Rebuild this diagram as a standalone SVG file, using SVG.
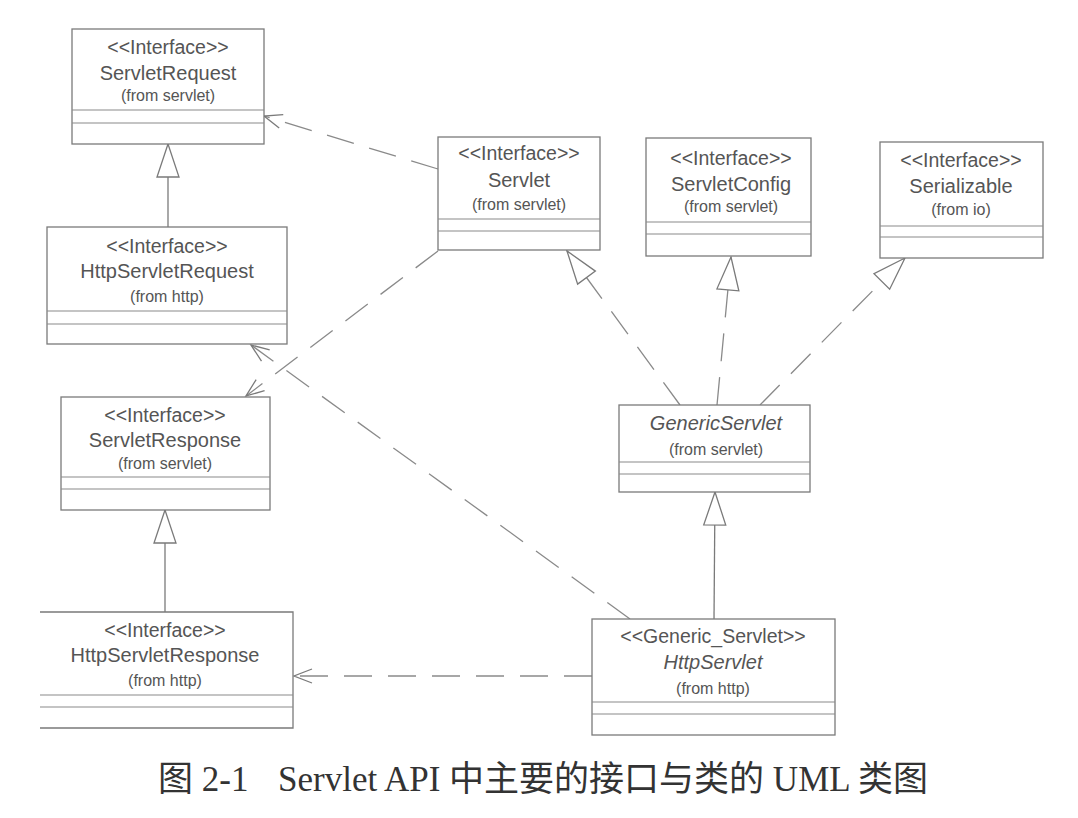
<svg xmlns="http://www.w3.org/2000/svg" width="1078" height="818" viewBox="0 0 1078 818">
<style>
  .box { fill: #ffffff; stroke: #7a7a7a; stroke-width: 1.3; }
  .div { stroke: #8a8a8a; stroke-width: 1.2; fill: none; }
  .t { font-family: "Liberation Sans", Arial, sans-serif; fill: #555555; text-anchor: middle; }
  .st { font-size: 19.5px; }
  .nm { font-size: 20px; }
  .it { font-style: italic; }
  .fr { font-size: 16px; }
  .dash { fill: none; stroke: #8a8a8a; stroke-width: 1.3; stroke-dasharray: 28 16; }
  .solid { fill: none; stroke: #7a7a7a; stroke-width: 1.3; }
  .cap { font-family: "Liberation Serif", "Noto Sans CJK SC", serif; font-size: 35px; fill: #333333; }
</style>
<defs>
  <marker id="open" markerUnits="userSpaceOnUse" viewBox="-20 -10 22 20" refX="0" refY="0" markerWidth="22" markerHeight="20" orient="auto">
    <path d="M-18,-7 L0,0 L-18,7" fill="none" stroke="#7a7a7a" stroke-width="1.3" stroke-dasharray="none"/>
  </marker>
  <marker id="tri" markerUnits="userSpaceOnUse" viewBox="-36 -13 38 26" refX="0" refY="0" markerWidth="38" markerHeight="26" orient="auto">
    <path d="M0,0 L-33,-11 L-33,11 Z" fill="#ffffff" stroke="#7a7a7a" stroke-width="1.3" stroke-dasharray="none"/>
  </marker>
</defs>
<rect x="0" y="0" width="1078" height="818" fill="#ffffff"/>

<g id="connectors">
  <path class="dash" d="M438,169 L264,116" marker-end="url(#open)"/>
  <path class="dash" d="M438,251 L246,396" marker-end="url(#open)"/>
  <path class="dash" d="M630,619 L251,345" marker-end="url(#open)"/>
  <path class="dash" d="M592,676 L294,676" marker-end="url(#open)"/>
  <path class="dash" d="M680,405 L567,251" marker-end="url(#tri)"/>
  <path class="dash" d="M717,405 L731,257" marker-end="url(#tri)"/>
  <path class="dash" d="M760,405 L905,258" marker-end="url(#tri)"/>
  <path class="solid" d="M714,619 L715,492" marker-end="url(#tri)"/>
  <path class="solid" d="M168,227 L168,144" marker-end="url(#tri)"/>
  <path class="solid" d="M165,612 L165,510" marker-end="url(#tri)"/>
</g>

<g id="ServletRequest">
  <rect class="box" x="72" y="29" width="192" height="115"/>
  <line class="div" x1="72" y1="110" x2="264" y2="110"/>
  <line class="div" x1="72" y1="123" x2="264" y2="123"/>
  <text class="t st" x="168" y="54">&lt;&lt;Interface&gt;&gt;</text>
  <text class="t nm" x="168" y="80">ServletRequest</text>
  <text class="t fr" x="168" y="101">(from servlet)</text>
</g>

<g id="HttpServletRequest">
  <rect class="box" x="47" y="227" width="240" height="117"/>
  <line class="div" x1="47" y1="311" x2="287" y2="311"/>
  <line class="div" x1="47" y1="324" x2="287" y2="324"/>
  <text class="t st" x="167" y="253">&lt;&lt;Interface&gt;&gt;</text>
  <text class="t nm" x="167" y="278">HttpServletRequest</text>
  <text class="t fr" x="167" y="302">(from http)</text>
</g>

<g id="ServletResponse">
  <rect class="box" x="61" y="397" width="209" height="113"/>
  <line class="div" x1="61" y1="477" x2="270" y2="477"/>
  <line class="div" x1="61" y1="489" x2="270" y2="489"/>
  <text class="t st" x="165" y="422">&lt;&lt;Interface&gt;&gt;</text>
  <text class="t nm" x="165" y="447">ServletResponse</text>
  <text class="t fr" x="165" y="469">(from servlet)</text>
</g>

<g id="HttpServletResponse">
  <path class="box" d="M40,612 L293,612 L293,728 L40,728"/>
  <line class="div" x1="40" y1="695" x2="293" y2="695"/>
  <line class="div" x1="40" y1="707" x2="293" y2="707"/>
  <text class="t st" x="165" y="637">&lt;&lt;Interface&gt;&gt;</text>
  <text class="t nm" x="165" y="662">HttpServletResponse</text>
  <text class="t fr" x="165" y="686">(from http)</text>
</g>

<g id="Servlet">
  <rect class="box" x="438" y="137" width="162" height="113"/>
  <line class="div" x1="438" y1="219" x2="600" y2="219"/>
  <line class="div" x1="438" y1="231" x2="600" y2="231"/>
  <text class="t st" x="519" y="160">&lt;&lt;Interface&gt;&gt;</text>
  <text class="t nm" x="519" y="187">Servlet</text>
  <text class="t fr" x="519" y="210">(from servlet)</text>
</g>

<g id="ServletConfig">
  <rect class="box" x="646" y="138" width="165" height="118"/>
  <line class="div" x1="646" y1="222" x2="811" y2="222"/>
  <line class="div" x1="646" y1="234" x2="811" y2="234"/>
  <text class="t st" x="731" y="165">&lt;&lt;Interface&gt;&gt;</text>
  <text class="t nm" x="731" y="191">ServletConfig</text>
  <text class="t fr" x="731" y="212">(from servlet)</text>
</g>

<g id="Serializable">
  <rect class="box" x="880" y="142" width="163" height="116"/>
  <line class="div" x1="880" y1="226" x2="1043" y2="226"/>
  <line class="div" x1="880" y1="237" x2="1043" y2="237"/>
  <text class="t st" x="961" y="167">&lt;&lt;Interface&gt;&gt;</text>
  <text class="t nm" x="961" y="193">Serializable</text>
  <text class="t fr" x="961" y="215">(from io)</text>
</g>

<g id="GenericServlet">
  <rect class="box" x="619" y="405" width="191" height="87"/>
  <line class="div" x1="619" y1="462" x2="810" y2="462"/>
  <line class="div" x1="619" y1="474" x2="810" y2="474"/>
  <text class="t nm it" x="716" y="430">GenericServlet</text>
  <text class="t fr" x="716" y="455">(from servlet)</text>
</g>

<g id="HttpServlet">
  <rect class="box" x="592" y="619" width="243" height="116"/>
  <line class="div" x1="592" y1="702" x2="835" y2="702"/>
  <line class="div" x1="592" y1="714" x2="835" y2="714"/>
  <text class="t st" x="713" y="643">&lt;&lt;Generic_Servlet&gt;&gt;</text>
  <text class="t nm it" x="713" y="669">HttpServlet</text>
  <text class="t fr" x="713" y="694">(from http)</text>
</g>

<g id="caption">
  <text class="cap" x="158" y="791">图 2-1</text>
  <text class="cap" x="278" y="791">Servlet API 中主要的接口与类的 UML 类图</text>
</g>
</svg>
